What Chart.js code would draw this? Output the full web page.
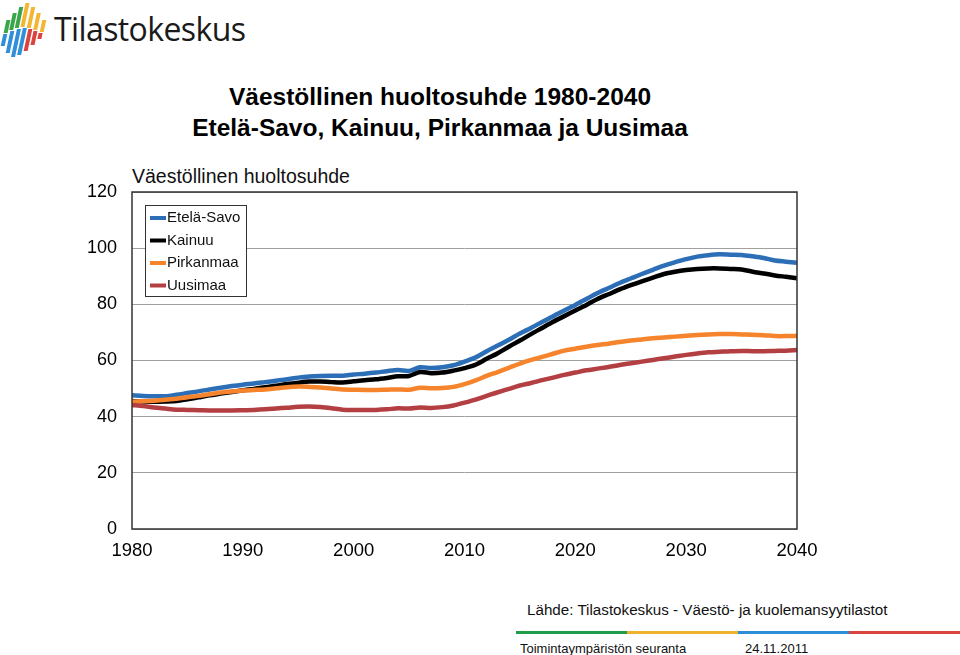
<!DOCTYPE html>
<html>
<head>
<meta charset="utf-8">
<script src="https://cdn.jsdelivr.net/npm/chart.js@4.4.1/dist/chart.umd.min.js"></script>
<style>
    body { margin: 0; background: #fff; font-family: 'Liberation Sans', Arial, sans-serif; }
    #page { position: relative; width: 960px; height: 655px; overflow: hidden; }
    .abs { position: absolute; white-space: nowrap; }
    .title { left: 0; width: 880px; text-align: center; font-weight: bold; font-size: 24.5px; color: #000; }
    .bar { position: absolute; width: 4px; transform: skewX(-12deg); }
</style>
</head>
<body>
<div id="page">
    <!-- logo -->
    <div id="logo" class="abs" style="left:0;top:0;width:50px;height:60px;"></div>
    <div class="abs" style="left:54px;top:7px;font-family:'Open Sans';font-size:32px;color:#1a1a1a;letter-spacing:-0.6px;">Tilastokeskus</div>

    <div class="abs title" style="top:83px;">Väestöllinen huoltosuhde 1980-2040</div>
    <div class="abs title" style="top:114px;">Etelä-Savo, Kainuu, Pirkanmaa ja Uusimaa</div>
    <div class="abs" style="left:132px;top:165px;font-size:19.5px;color:#111;">Väestöllinen huoltosuhde</div>

    <div style="position:absolute;left:0;top:150px;width:960px;height:420px;">
        <canvas id="trendChart"></canvas>
    </div>

    <div class="abs" style="left:527px;top:601px;font-size:15.2px;color:#111;">Lähde: Tilastokeskus - Väestö- ja kuolemansyytilastot</div>
    <div class="abs" style="left:516px;top:631px;width:111px;height:3px;background:#1f9d4b;"></div>
    <div class="abs" style="left:627px;top:631px;width:111px;height:3px;background:#f0b22e;"></div>
    <div class="abs" style="left:738px;top:631px;width:111px;height:3px;background:#2b8ed6;"></div>
    <div class="abs" style="left:849px;top:631px;width:111px;height:3px;background:#d9443f;"></div>
    <div class="abs" style="left:520px;top:641px;font-size:13px;color:#111;">Toimintaympäristön seuranta</div>
    <div class="abs" style="left:745px;top:641px;font-size:13px;color:#111;">24.11.2011</div>
</div>

<script>
// Data
const years = [];
for (let y = 1980; y <= 2040; y++) years.push(y);

const seriesNames = ['Etelä-Savo', 'Kainuu', 'Pirkanmaa', 'Uusimaa'];
const seriesColors = ['#2c6fb6', '#000000', '#f5842c', '#b33f43'];

const etelaSavo = [
    47.6, 47.4, 47.3, 47.3, 47.8, 48.4, 49.0, 49.7, 50.3, 50.9,
    51.4, 51.8, 52.3, 52.8, 53.3, 53.9, 54.3, 54.5, 54.6, 54.6,
    55.0, 55.3, 55.7, 56.2, 56.6, 56.3, 57.6, 57.3, 57.6, 58.3,
    59.6, 61.1, 63.3, 65.3, 67.4, 69.6, 71.6, 73.7, 75.8, 77.8,
    79.8, 81.9, 84.0, 85.8, 87.6, 89.2, 90.8, 92.3, 93.8, 95.0,
    96.1, 97.0, 97.5, 97.8, 97.7, 97.6, 97.1, 96.5, 95.6, 95.2,
    94.8
];
const kainuu = [
    45.6, 45.4, 45.3, 45.4, 45.6, 46.2, 46.9, 47.6, 48.2, 48.8,
    49.4, 49.9, 50.5, 51.0, 51.6, 52.1, 52.5, 52.5, 52.3, 52.2,
    52.6, 53.0, 53.3, 53.8, 54.4, 54.5, 55.9, 55.5, 55.7, 56.4,
    57.3, 58.5, 60.6, 62.6, 64.9, 67.1, 69.4, 71.6, 73.8, 75.8,
    77.8, 79.8, 81.9, 83.6, 85.3, 86.8, 88.2, 89.5, 90.8, 91.6,
    92.2, 92.6, 92.8, 92.8, 92.6, 92.4, 91.6, 91.0, 90.3, 89.8,
    89.3
];
const pirkanmaa = [
    45.4, 45.5, 45.7, 46.0, 46.4, 46.9, 47.4, 48.0, 48.6, 49.0,
    49.3, 49.5, 49.7, 50.1, 50.5, 50.7, 50.6, 50.4, 50.0, 49.7,
    49.6, 49.5, 49.5, 49.6, 49.7, 49.6, 50.3, 50.1, 50.2, 50.6,
    51.6, 52.9, 54.5, 55.9, 57.4, 58.9, 60.2, 61.3, 62.4, 63.5,
    64.2, 64.9, 65.5, 66.0, 66.6, 67.1, 67.5, 67.9, 68.2, 68.5,
    68.8, 69.1, 69.3, 69.4, 69.4, 69.3, 69.2, 69.0, 68.7, 68.7,
    68.8
];
const uusimaa = [
    44.2, 43.8, 43.3, 42.9, 42.5, 42.4, 42.3, 42.2, 42.2, 42.2,
    42.3, 42.4, 42.6, 42.9, 43.2, 43.5, 43.6, 43.4, 43.0, 42.5,
    42.4, 42.4, 42.4, 42.6, 43.0, 42.9, 43.3, 43.1, 43.4, 44.0,
    45.0, 46.1, 47.4, 48.7, 49.9, 51.1, 52.0, 53.0, 53.9, 54.9,
    55.7, 56.5, 57.1, 57.7, 58.4, 59.0, 59.6, 60.2, 60.8, 61.4,
    62.0, 62.5, 62.9, 63.1, 63.3, 63.4, 63.3, 63.3, 63.4, 63.5,
    63.7
];
const seriesValues = [etelaSavo, kainuu, pirkanmaa, uusimaa];

const yTicks = [0, 20, 40, 60, 80, 100, 120];
const xTicks = [1980, 1990, 2000, 2010, 2020, 2030, 2040];

// Logo bars (colour top / bottom)
function drawLogo() {
    const logo = document.getElementById('logo');
    const bars = [
        { x: 5, top: 20, mid: 33, bot: 46, c1: '#3aa64a', c2: '#2f8fd8' },
        { x: 11, top: 13, mid: 30, bot: 53, c1: '#3aa64a', c2: '#2f8fd8' },
        { x: 17, top: 7, mid: 28, bot: 57, c1: '#3aa64a', c2: '#2f8fd8' },
        { x: 23, top: 3, mid: 27, bot: 55, c1: '#f2b632', c2: '#2f8fd8' },
        { x: 29, top: 7, mid: 28, bot: 51, c1: '#f2b632', c2: '#d9443f' },
        { x: 35, top: 13, mid: 30, bot: 45, c1: '#f2b632', c2: '#d9443f' },
        { x: 41, top: 20, mid: 32, bot: 39, c1: '#f2b632', c2: '#d9443f' }
    ];
    bars.forEach(b => {
        const d1 = document.createElement('div');
        d1.className = 'bar';
        d1.style.left = b.x + 'px';
        d1.style.top = b.top + 'px';
        d1.style.height = (b.mid - b.top) + 'px';
        d1.style.background = b.c1;
        logo.appendChild(d1);
        const d2 = document.createElement('div');
        d2.className = 'bar';
        d2.style.left = (b.x - 3) + 'px';
        d2.style.top = (b.mid + 1) + 'px';
        d2.style.height = (b.bot - b.mid - 1) + 'px';
        d2.style.background = b.c2;
        logo.appendChild(d2);
    });
}

// Frame around the plot area and legend box inside it
const framePlugin = {
    id: 'frame',
    afterDatasetsDraw(chart) {
        const { ctx, chartArea } = chart;
        ctx.save();
        ctx.strokeStyle = '#333';
        ctx.lineWidth = 1.5;
        ctx.strokeRect(chartArea.left, chartArea.top, chartArea.right - chartArea.left, chartArea.bottom - chartArea.top);

        // legend
        const lx = chartArea.left + 13, ly = chartArea.top + 13;
        ctx.fillStyle = '#fff';
        ctx.fillRect(lx, ly, 101, 91);
        ctx.strokeStyle = '#333';
        ctx.lineWidth = 1;
        ctx.strokeRect(lx + 0.5, ly + 0.5, 101, 91);
        ctx.font = '15px "Liberation Sans", Arial, sans-serif';
        ctx.textBaseline = 'middle';
        chart.data.datasets.forEach((ds, i) => {
            const cy = ly + 13 + i * 22.5;
            ctx.strokeStyle = ds.borderColor;
            ctx.lineWidth = 4;
            ctx.beginPath();
            ctx.moveTo(lx + 5, cy);
            ctx.lineTo(lx + 21, cy);
            ctx.stroke();
            ctx.fillStyle = '#111';
            ctx.fillText(ds.label, lx + 22, cy);
        });
        ctx.restore();
    }
};

function createTrendChart() {
    const ctx = document.getElementById('trendChart');
    new Chart(ctx, {
        type: 'line',
        data: {
            datasets: seriesNames.map((name, i) => ({
                label: name,
                data: years.map((yr, j) => ({ x: yr, y: seriesValues[i][j] })),
                borderColor: seriesColors[i],
                backgroundColor: seriesColors[i],
                borderWidth: 4.5,
                pointRadius: 0,
                tension: 0.3,
                fill: false,
                order: seriesNames.length - i
            }))
        },
        options: {
            responsive: true,
            maintainAspectRatio: false,
            animation: false,
            layout: { padding: { left: 0, right: 163, top: 42, bottom: 0 } },
            scales: {
                x: {
                    type: 'linear',
                    min: 1980,
                    max: 2040,
                    afterBuildTicks: scale => { scale.ticks = xTicks.map(v => ({ value: v })); },
                    afterFit: scale => { scale.height = 41; },
                    ticks: {
                        color: '#000',
                        padding: 11,
                        maxRotation: 0,
                        font: { size: 18.5, family: '"Liberation Sans", Arial' },
                        callback: value => String(value)
                    },
                    grid: { display: false, drawTicks: false },
                    border: { display: false }
                },
                y: {
                    min: 0,
                    max: 120,
                    afterBuildTicks: scale => { scale.ticks = yTicks.map(v => ({ value: v })); },
                    afterFit: scale => { scale.width = 132; },
                    ticks: {
                        color: '#000',
                        padding: 15,
                        font: { size: 18, family: '"Liberation Sans", Arial' }
                    },
                    grid: { color: '#a0a0a0', lineWidth: 1, drawTicks: false },
                    border: { display: false }
                }
            },
            plugins: {
                legend: { display: false },
                tooltip: { enabled: false }
            }
        },
        plugins: [framePlugin]
    });
}

drawLogo();
createTrendChart();
</script>
</body>
</html>
